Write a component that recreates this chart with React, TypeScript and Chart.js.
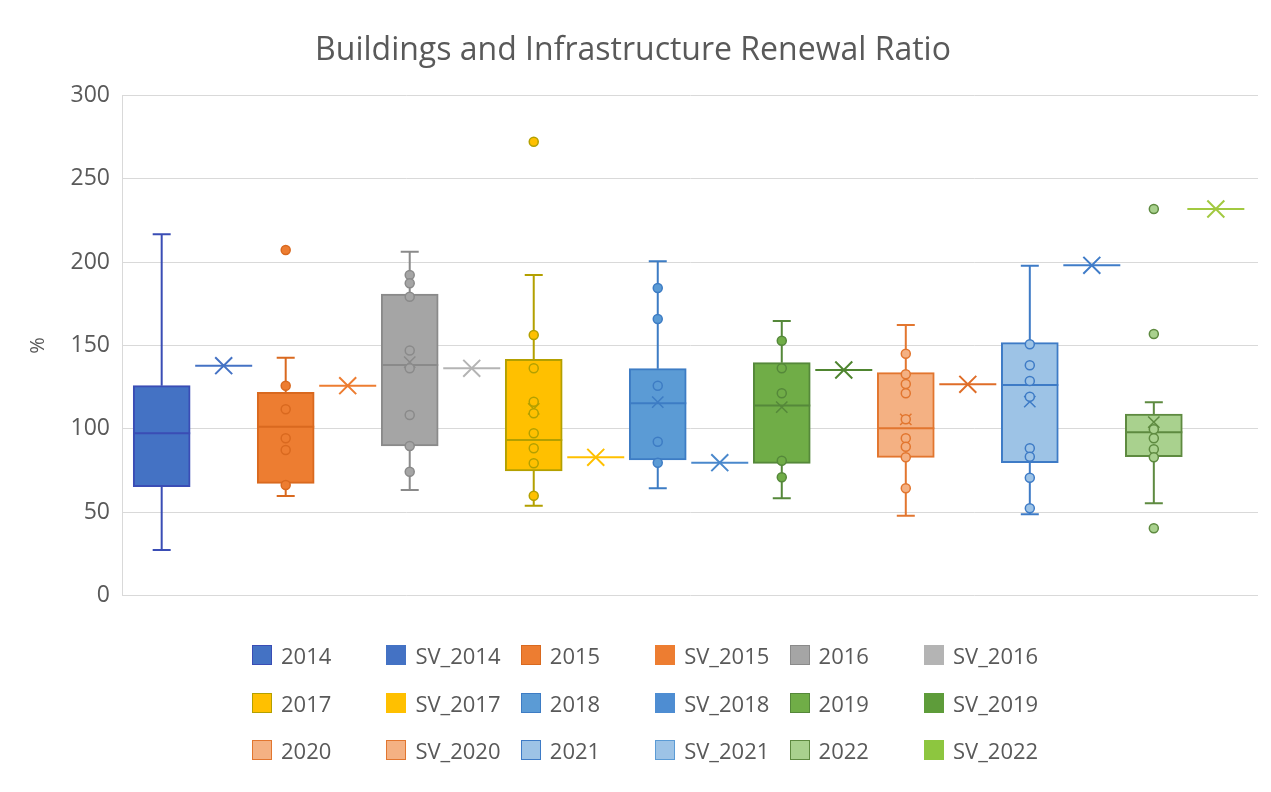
import React, { useEffect, useRef } from "react";
import { Chart, registerables } from "chart.js";

Chart.register(...registerables);

// ---------- data ----------
const TITLE = "Buildings and Infrastructure Renewal Ratio";
const Y_TITLE = "%";
const Y_TICKS = [0, 50, 100, 150, 200, 250, 300];

const BOX_NAMES = ["2014", "2015", "2016", "2017", "2018", "2019", "2020", "2021", "2022"];
const SV_NAMES = ["SV_2014", "SV_2015", "SV_2016", "SV_2017", "SV_2018", "SV_2019", "SV_2020", "SV_2021", "SV_2022"];

const BOX_MIN = [27.3, 59.7, 63.3, 53.9, 64.3, 58.3, 47.9, 48.7, 55.3];
const BOX_Q1 = [65.3, 67.3, 89.7, 74.7, 81.3, 79.3, 82.9, 79.7, 83.3];
const BOX_MEDIAN = [97.3, 101.3, 138.3, 93.3, 115.3, 114.0, 100.3, 126.3, 97.9];
const BOX_Q3 = [125.9, 121.9, 180.9, 141.7, 136.1, 139.7, 133.7, 151.7, 108.9];
const BOX_MAX = [216.7, 142.7, 206.3, 192.3, 200.5, 164.7, 162.3, 197.9, 115.9];
const BOX_MEAN = [null, null, 140.0, 112.0, 116.0, 113.0, 105.7, 116.3, 104.0];

const POINTS_2014: number[] = [];
const POINTS_2015 = [207.3, 125.9, 111.7, 94.3, 87.3, 66.3];
const POINTS_2016 = [192.3, 187.3, 179.3, 147.0, 136.3, 108.3, 89.7, 74.3];
const POINTS_2017 = [272.3, 156.3, 136.3, 116.3, 109.3, 97.3, 88.3, 79.3, 59.9];
const POINTS_2018 = [184.5, 165.9, 125.9, 92.3, 79.7];
const POINTS_2019 = [152.9, 136.3, 121.3, 80.9, 70.9];
const POINTS_2020 = [145.1, 132.7, 126.9, 121.3, 105.7, 94.3, 89.3, 82.9, 64.3];
const POINTS_2021 = [150.7, 138.1, 128.7, 119.3, 88.3, 83.3, 70.7, 52.3];
const POINTS_2022 = [231.9, 156.9, 99.7, 94.3, 87.7, 82.9, 40.3];
const BOX_POINTS = [
  POINTS_2014, POINTS_2015, POINTS_2016, POINTS_2017, POINTS_2018,
  POINTS_2019, POINTS_2020, POINTS_2021, POINTS_2022,
];

const SV_VALUES = [137.9, 125.9, 136.3, 82.9, 79.7, 135.3, 126.7, 198.1, 231.9];

// ---------- styles ----------
const BOX_FILL = ["#4472C4", "#ED7D31", "#A5A5A5", "#FFC000", "#5B9BD5", "#70AD47", "#F4B183", "#9DC3E6", "#A9D18E"];
const BOX_LINE = ["#3A4DB5", "#D9691F", "#8A8A8A", "#B3A000", "#3D7CC4", "#55883A", "#E2762F", "#3E7BC6", "#5E8A40"];
const SV_LINE = ["#4472C4", "#ED7D31", "#B4B4B4", "#FFC000", "#4A88CC", "#4F8530", "#DF6D28", "#3F7CC8", "#A2C940"];
const SV_SWATCH = ["#4472C4", "#ED7D31", "#B4B4B4", "#FFC000", "#4E8DD2", "#5E9C3A", "#F4B183", "#9DC3E6", "#8DC63F"];
const SV_SWATCH_BORDER = ["#4472C4", "#ED7D31", "#B4B4B4", "#FFC000", "#4E8DD2", "#5E9C3A", "#E2762F", "#5B9BD5", "#8DC63F"];

const FONT = "'Open Sans', 'Noto Sans', sans-serif";
const TEXT_COLOR = "#595959";
const BOX_PX = 57;
const CAP_PX = 18;
const SV_LINE_PX = 57;

const boxPlugin = {
  id: "boxWhisker",
  beforeDatasetsDraw(chart: any) {
    const { ctx } = chart;
    const x = chart.scales.x;
    const y = chart.scales.y;
    ctx.save();
    ctx.lineWidth = 2;
    BOX_NAMES.forEach((_, i) => {
      const cx = x.getPixelForValue(2 * i);
      ctx.strokeStyle = BOX_LINE[i];
      ctx.beginPath();
      ctx.moveTo(cx, y.getPixelForValue(BOX_MAX[i]));
      ctx.lineTo(cx, y.getPixelForValue(BOX_Q3[i]));
      ctx.moveTo(cx, y.getPixelForValue(BOX_Q1[i]));
      ctx.lineTo(cx, y.getPixelForValue(BOX_MIN[i]));
      ctx.moveTo(cx - CAP_PX / 2, y.getPixelForValue(BOX_MAX[i]));
      ctx.lineTo(cx + CAP_PX / 2, y.getPixelForValue(BOX_MAX[i]));
      ctx.moveTo(cx - CAP_PX / 2, y.getPixelForValue(BOX_MIN[i]));
      ctx.lineTo(cx + CAP_PX / 2, y.getPixelForValue(BOX_MIN[i]));
      ctx.stroke();
    });
    SV_VALUES.forEach((v, i) => {
      const cx = x.getPixelForValue(2 * i + 1);
      const py = y.getPixelForValue(v);
      ctx.strokeStyle = SV_LINE[i];
      ctx.beginPath();
      ctx.moveTo(cx - SV_LINE_PX / 2, py);
      ctx.lineTo(cx + SV_LINE_PX / 2, py);
      ctx.stroke();
    });
    ctx.restore();
  },
  afterDatasetDraw(chart: any, args: any) {
    const ds = chart.data.datasets[args.index];
    if (ds.boxIndex === undefined) return;
    const i = ds.boxIndex;
    const { ctx } = chart;
    const x = chart.scales.x;
    const y = chart.scales.y;
    const cx = x.getPixelForValue(2 * i);
    const py = y.getPixelForValue(BOX_MEDIAN[i]);
    ctx.save();
    ctx.strokeStyle = BOX_LINE[i];
    ctx.lineWidth = 2;
    ctx.beginPath();
    ctx.moveTo(cx - BOX_PX / 2, py);
    ctx.lineTo(cx + BOX_PX / 2, py);
    ctx.stroke();
    ctx.restore();
  },
};

function ChartCanvas() {
  const ref = useRef<HTMLCanvasElement | null>(null);
  useEffect(() => {
    if (!ref.current) return;
    const datasets: any[] = [];
    BOX_NAMES.forEach((name, i) => {
      datasets.push({
        type: "bar",
        label: name,
        boxIndex: i,
        data: [{ x: 2 * i, y: [BOX_Q1[i], BOX_Q3[i]] }],
        backgroundColor: BOX_FILL[i],
        borderColor: BOX_LINE[i],
        borderWidth: 2,
        borderSkipped: false,
        barThickness: BOX_PX,
        grouped: false,
        order: 3,
      });
      datasets.push({
        type: "scatter",
        label: name + " points",
        data: BOX_POINTS[i].map((v) => ({ x: 2 * i, y: v })),
        pointRadius: 4.5,
        pointBackgroundColor: BOX_FILL[i],
        pointBorderColor: BOX_LINE[i],
        pointBorderWidth: 1.5,
        order: 2,
      });
      datasets.push({
        type: "scatter",
        label: name + " mean",
        data: BOX_MEAN[i] === null ? [] : [{ x: 2 * i, y: BOX_MEAN[i] }],
        pointStyle: "crossRot",
        pointRadius: 8,
        pointBorderColor: BOX_LINE[i],
        pointBorderWidth: 1.5,
        order: 2,
      });
    });
    SV_NAMES.forEach((name, i) => {
      datasets.push({
        type: "scatter",
        label: name,
        data: [{ x: 2 * i + 1, y: SV_VALUES[i] }],
        pointStyle: "crossRot",
        pointRadius: 12,
        pointBorderColor: SV_LINE[i],
        pointBackgroundColor: SV_LINE[i],
        pointBorderWidth: 2,
        order: 1,
      });
    });

    const chart = new Chart(ref.current, {
      type: "bar",
      data: { datasets },
      plugins: [boxPlugin as any],
      options: {
        animation: false,
        responsive: true,
        maintainAspectRatio: false,
        layout: { autoPadding: false, padding: { left: 0, right: 5, top: 0, bottom: 188.5 } },
        plugins: {
          legend: { display: false },
          tooltip: { enabled: false },
          title: {
            display: true,
            text: TITLE,
            color: TEXT_COLOR,
            font: { family: FONT, size: 32, weight: "normal" as any },
            padding: { top: 24, bottom: 25.1 },
          },
        },
        scales: {
          x: {
            type: "linear",
            offset: false,
            min: -0.64,
            max: 17.68,
            display: false,
          },
          y: {
            type: "linear",
            min: Y_TICKS[0],
            max: Y_TICKS[Y_TICKS.length - 1],
            afterFit: (scale: any) => {
              scale.width = 114;
            },
            afterBuildTicks: (scale: any) => {
              scale.ticks = Y_TICKS.map((v) => ({ value: v }));
            },
            grid: { color: "#D9D9D9", lineWidth: 1, drawTicks: false },
            border: { display: true, color: "#D9D9D9" },
            ticks: {
              color: TEXT_COLOR,
              padding: 12,
              font: { family: FONT, size: 23 },
            },
            title: {
              display: true,
              text: Y_TITLE,
              color: TEXT_COLOR,
              font: { family: FONT, size: 20 },
              padding: { top: 18, bottom: 0 },
            },
          },
        },
      } as any,
    });
    return () => chart.destroy();
  }, []);
  return <canvas ref={ref} />;
}

const LEGEND_ITEMS = BOX_NAMES.flatMap((name, i) => [
  { label: name, fill: BOX_FILL[i], border: BOX_LINE[i] },
  { label: SV_NAMES[i], fill: SV_SWATCH[i], border: SV_SWATCH_BORDER[i] },
]);

export default function App() {
  return (
    <div style={{ position: "relative", width: 1255, height: 776, background: "#fff" }}>
      <ChartCanvas />
      {LEGEND_ITEMS.map((item, k) => {
        const col = k % 6;
        const row = Math.floor(k / 6);
        const left = 244 + col * 134.4;
        const top = 647 + row * 47.5;
        return (
          <div
            key={item.label}
            style={{
              position: "absolute",
              left,
              top: top - 14,
              height: 28,
              display: "flex",
              alignItems: "center",
              whiteSpace: "nowrap",
              fontFamily: FONT,
              fontSize: 22,
              color: TEXT_COLOR,
            }}
          >
            <span
              style={{
                display: "inline-block",
                width: 20,
                height: 20,
                boxSizing: "border-box",
                background: item.fill,
                border: `1.5px solid ${item.border}`,
                marginRight: 9,
              }}
            />
            <span>{item.label}</span>
          </div>
        );
      })}
    </div>
  );
}
